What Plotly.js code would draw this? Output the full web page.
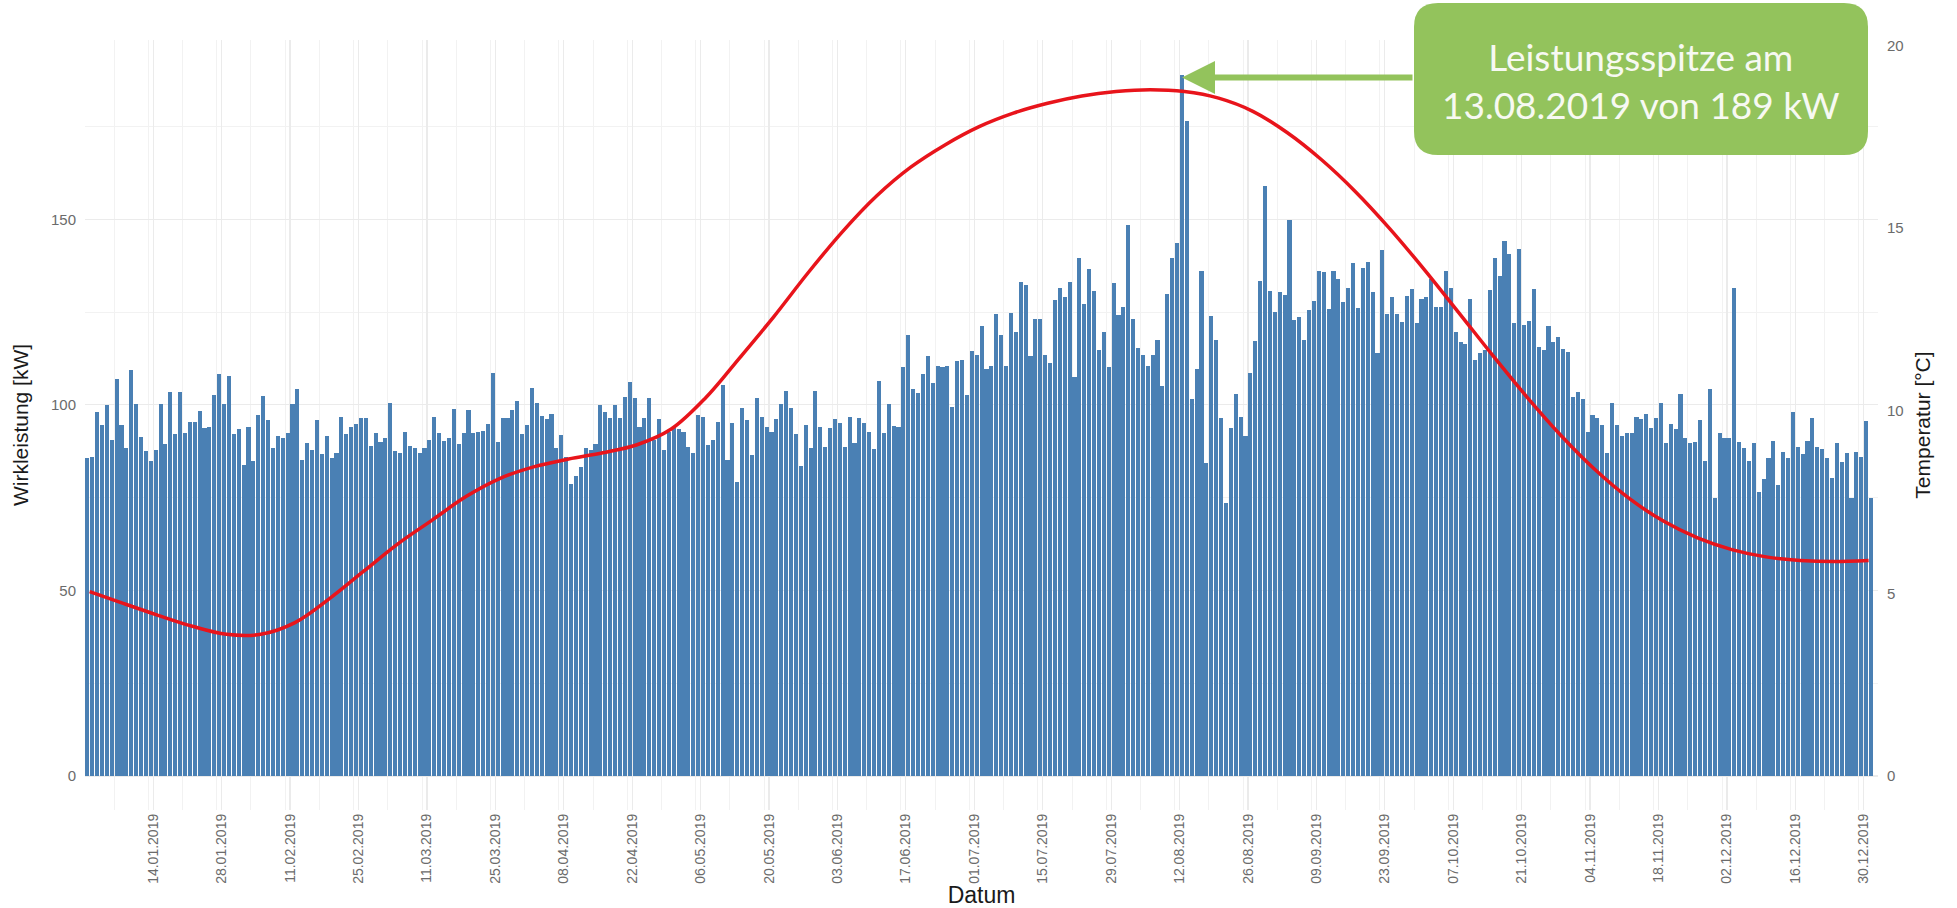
<!DOCTYPE html>
<html>
<head>
<meta charset="utf-8">
<script src="https://cdn.plot.ly/plotly-3.0.1.min.js"></script>
<style>
html,body{margin:0;padding:0;background:#fff;}
#chart{width:1957px;height:908px;}
</style>
</head>
<body>
<div id="chart"></div>
<script>
// ---- data ----
const startDate = '2019-01-01';
// Daily active power (kW), one value per day starting 01.01.2019
const leistung = [
85.8, 86.0, 98.2, 94.6, 99.9, 90.5, 106.9, 94.7, 88.5, 109.4,
100.2, 91.4, 87.6, 84.9, 87.8, 100.2, 89.4, 103.4, 92.1, 103.4,
92.5, 95.5, 95.5, 98.3, 93.7, 94.1, 102.6, 108.2, 100.2, 107.9,
92.1, 93.5, 83.8, 94.1, 84.9, 97.3, 102.5, 95.9, 88.5, 91.7,
91.0, 92.5, 100.2, 104.3, 85.1, 89.6, 87.8, 95.9, 86.7, 91.7,
85.6, 87.1, 96.8, 92.1, 94.1, 94.8, 96.5, 96.5, 88.9, 92.5,
90.1, 91.0, 100.4, 87.6, 86.9, 92.6, 89.0, 88.3, 86.9, 88.5,
90.5, 96.6, 92.3, 90.3, 91.0, 98.8, 89.4, 92.5, 98.6, 92.5,
92.8, 92.9, 94.8, 108.7, 89.9, 96.4, 96.4, 98.6, 101.1, 92.1,
94.6, 104.6, 100.6, 97.1, 96.1, 97.5, 88.5, 92.0, 86.0, 78.7,
80.9, 83.3, 88.5, 87.8, 89.4, 99.9, 98.2, 96.4, 99.9, 96.4,
102.2, 106.1, 101.9, 94.1, 96.4, 101.9, 90.5, 96.1, 87.8, 92.8,
94.1, 93.5, 92.8, 88.7, 86.9, 97.3, 96.8, 89.2, 90.5, 95.5,
105.3, 85.1, 95.0, 79.3, 99.2, 95.9, 86.5, 101.9, 96.6, 93.9,
92.8, 96.2, 100.2, 103.7, 99.2, 92.1, 83.5, 94.6, 88.5, 103.8,
93.9, 88.7, 93.7, 96.1, 95.0, 88.7, 96.6, 89.6, 96.5, 95.0,
92.8, 88.0, 106.4, 92.3, 100.1, 94.3, 93.9, 110.3, 118.8, 104.2,
103.1, 108.2, 113.1, 105.8, 110.5, 110.1, 110.5, 99.3, 111.9, 112.1,
102.6, 114.5, 113.4, 121.2, 109.6, 110.5, 124.6, 118.8, 110.5, 124.8,
119.7, 133.2, 132.3, 113.1, 123.0, 123.0, 113.4, 111.3, 128.2, 131.4,
129.1, 133.0, 107.6, 139.7, 127.3, 136.5, 130.7, 114.8, 119.7, 110.3,
132.7, 124.2, 126.4, 148.4, 123.0, 115.2, 113.4, 110.5, 113.4, 117.6,
105.1, 129.8, 139.6, 143.7, 189.0, 176.5, 101.5, 109.6, 136.1, 84.2,
123.9, 117.6, 96.4, 73.5, 93.8, 102.9, 96.8, 91.6, 108.7, 117.3,
133.4, 159.0, 130.7, 125.1, 130.5, 129.6, 149.8, 122.8, 123.6, 117.6,
125.5, 128.1, 136.1, 135.7, 125.7, 136.1, 133.8, 127.8, 131.4, 138.1,
126.0, 137.0, 138.4, 130.5, 113.9, 141.7, 124.5, 129.0, 124.6, 122.4,
129.3, 131.1, 122.1, 128.4, 129.1, 133.8, 126.4, 126.4, 136.1, 131.6,
119.7, 117.0, 116.4, 128.4, 112.1, 113.9, 114.8, 130.9, 139.7, 134.7,
144.1, 140.6, 122.0, 142.0, 121.5, 122.7, 131.1, 115.7, 114.9, 121.2,
117.0, 118.4, 115.0, 114.3, 102.2, 103.5, 101.5, 92.8, 97.3, 96.4,
94.6, 87.1, 100.4, 94.6, 91.6, 92.3, 92.5, 96.8, 96.1, 97.5,
93.8, 96.4, 100.4, 89.8, 94.8, 93.4, 102.9, 91.2, 89.6, 90.1,
95.9, 84.9, 104.4, 75.0, 92.5, 91.2, 91.2, 131.6, 90.1, 88.3,
84.9, 89.6, 76.6, 79.9, 85.8, 90.3, 78.4, 87.4, 85.6, 98.0,
88.7, 86.7, 90.3, 96.4, 88.7, 88.1, 85.6, 80.2, 89.8, 84.7,
87.1, 74.8, 87.4, 85.9, 95.7, 74.8
];
// Smoothed temperature curve (°C), read weekly
const tempDates = [
'2019-01-01','2019-01-08','2019-01-15','2019-01-22','2019-01-29','2019-02-05','2019-02-12','2019-02-19',
'2019-02-26','2019-03-05','2019-03-12','2019-03-19','2019-03-26','2019-04-02','2019-04-09','2019-04-16',
'2019-04-23','2019-04-30','2019-05-07','2019-05-14','2019-05-21','2019-05-28','2019-06-04','2019-06-11',
'2019-06-18','2019-06-25','2019-07-02','2019-07-09','2019-07-16','2019-07-23','2019-07-30','2019-08-06',
'2019-08-13','2019-08-20','2019-08-27','2019-09-03','2019-09-10','2019-09-17','2019-09-24','2019-10-01',
'2019-10-08','2019-10-15','2019-10-22','2019-10-29','2019-11-05','2019-11-12','2019-11-19','2019-11-26',
'2019-12-03','2019-12-10','2019-12-17','2019-12-24','2019-12-31'
];
const temperatur = [
5.05, 4.72, 4.40, 4.10, 3.88, 3.88, 4.20, 4.85,
5.60, 6.35, 7.00, 7.65, 8.15, 8.47, 8.68, 8.85,
9.07, 9.50, 10.35, 11.45, 12.58, 13.78, 14.90, 15.88,
16.67, 17.28, 17.78, 18.15, 18.42, 18.62, 18.74, 18.79,
18.74, 18.56, 18.20, 17.62, 16.88, 16.00, 14.99, 13.88,
12.71, 11.53, 10.39, 9.33, 8.39, 7.60, 6.98, 6.52,
6.20, 6.00, 5.90, 5.87, 5.90
];

// ---- helpers ----
const DAY = 86400000;
const t0 = new Date(startDate + 'T00:00:00Z').getTime();
function iso(ms){ return new Date(ms).toISOString().slice(0,19).replace('T',' '); }
const dates = leistung.map((v,i)=> iso(t0 + i*DAY));

let peakIdx = 0;
leistung.forEach((v,i)=>{ if(v > leistung[peakIdx]) peakIdx = i; });
const peakDate = new Date(t0 + peakIdx*DAY);
const dd = String(peakDate.getUTCDate()).padStart(2,'0');
const mm = String(peakDate.getUTCMonth()+1).padStart(2,'0');
const peakText = 'Leistungsspitze am<br>' + dd + '.' + mm + '.' + peakDate.getUTCFullYear() + ' von ' + Math.round(leistung[peakIdx]) + ' kW';

// ---- layout geometry ----
const W = 1957, H = 908;
const M = {l:85, r:79, t:40, b:98};
const pw = W - M.l - M.r, ph = H - M.t - M.b;
function px2x(p){ return (p - M.l)/pw; }
function px2y(p){ return (H - M.b - p)/ph; }

const xRange = ['2018-12-31 01:00','2020-01-01 22:00'];
const barWidth = 0.84*DAY;
const yRange = [-9.16, 198.3];
const tScale = 9.84;

const green = '#93c35c';

// rounded box path in paper coordinates
const bx0 = px2x(1414), bx1 = px2x(1868), by0 = px2y(155), by1 = px2y(3);
const rx = 24/pw, ry = 24/ph;
const boxPath = 'M ' + (bx0+rx) + ',' + by1 +
  ' L ' + (bx1-rx) + ',' + by1 + ' Q ' + bx1 + ',' + by1 + ' ' + bx1 + ',' + (by1-ry) +
  ' L ' + bx1 + ',' + (by0+ry) + ' Q ' + bx1 + ',' + by0 + ' ' + (bx1-rx) + ',' + by0 +
  ' L ' + (bx0+rx) + ',' + by0 + ' Q ' + bx0 + ',' + by0 + ' ' + bx0 + ',' + (by0+ry) +
  ' L ' + bx0 + ',' + (by1-ry) + ' Q ' + bx0 + ',' + by1 + ' ' + (bx0+rx) + ',' + by1 + ' Z';

const fam = 'Liberation Sans, Arial, sans-serif';
const tickFont = {family:fam, size:15, color:'#6b6b6b'};
const titleFont = {family:fam, size:21, color:'#1a1a1a'};
const grid = '#ebebeb';

const traces = [
  {
    type:'bar', x:dates, y:leistung,
    width: barWidth, offset: -(0.5*DAY + barWidth/2),
    marker:{color:'#4a80b4', line:{width:0}},
    hoverinfo:'x+y', name:'Wirkleistung'
  },
  {
    type:'scatter', mode:'lines', x:tempDates, y:temperatur, yaxis:'y2',
    line:{color:'#e8141b', width:3.5, shape:'spline', smoothing:1},
    name:'Temperatur'
  }
];

const layout = {
  width: W, height: H,
  margin: M,
  paper_bgcolor:'#ffffff', plot_bgcolor:'#ffffff',
  showlegend:false,
  bargap:0,
  xaxis:{
    type:'date',
    range:xRange,
    tick0:'2019-01-14', dtick:14*DAY,
    tickformat:'%d.%m.%Y', tickangle:-90,
    tickfont:{family:fam, size:14, color:'#6b6b6b'},
    showgrid:true, gridcolor:grid, gridwidth:1.2,
    minor:{dtick:7*DAY, showgrid:true, gridcolor:'#f2f2f2', gridwidth:1},
    ticks:'', showline:false, zeroline:false,
    title:{text:'Datum', font:{family:fam, size:23, color:'#1a1a1a'}, standoff:4},
    automargin:false
  },
  yaxis:{
    range:yRange,
    tickvals:[0,50,100,150],
    tickfont:tickFont,
    showgrid:true, gridcolor:grid, gridwidth:1.2,
    minor:{tickvals:[25,75,125,175], showgrid:true, gridcolor:'#f2f2f2', gridwidth:1},
    ticks:'', showline:false, zeroline:false,
    ticklabelstandoff:8,
    title:{text:'Wirkleistung [kW]', font:titleFont, standoff:16},
    automargin:false
  },
  yaxis2:{
    overlaying:'y', side:'right',
    range:[yRange[0]/tScale, yRange[1]/tScale],
    tickvals:[0,5,10,15,20],
    tickfont:tickFont,
    showgrid:false, zeroline:false, ticks:'', showline:false,
    ticklabelstandoff:8,
    title:{text:'Temperatur [°C]', font:titleFont, standoff:12},
    automargin:false
  },
  shapes:[
    {type:'path', xref:'paper', yref:'paper', path:boxPath,
     fillcolor:green, line:{width:0}, layer:'above'}
  ],
  annotations:[
    {
      x: iso(peakDate.getTime() - 0.5*DAY), y: leistung[peakIdx], xref:'x', yref:'y',
      yshift:-3,
      text:'', showarrow:true, ax: 200, ay:0,
      axref:'pixel', ayref:'pixel',
      arrowcolor:green, arrowwidth:6, arrowhead:2, arrowsize:1.1, standoff:0
    },
    {
      xref:'paper', yref:'paper', x:(px2x(1414)+px2x(1868))/2, y:px2y(80),
      xanchor:'center', yanchor:'middle',
      text:peakText, showarrow:false, align:'center',
      font:{family:'Lato, Open Sans, sans-serif', size:37, color:'#f7f9f2'}
    }
  ]
};

// arrow tail offset computed from peak bar pixel position
const xr0 = new Date(xRange[0].replace(' ','T')+':00Z').getTime(), xr1 = new Date(xRange[1].replace(' ','T')+':00Z').getTime();
const peakPx = M.l + pw*((peakDate.getTime() - 0.5*DAY) - xr0)/(xr1 - xr0);
layout.annotations[0].ax = 1414 - peakPx;

Plotly.newPlot('chart', traces, layout, {staticPlot:true, displayModeBar:false});
</script>
</body>
</html>
